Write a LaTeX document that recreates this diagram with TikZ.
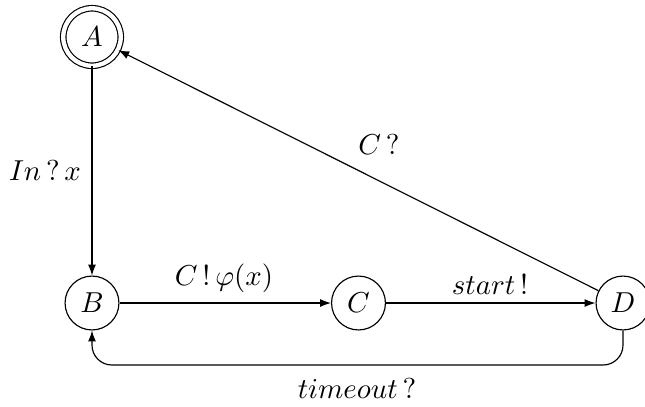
\documentclass[tikz,border=0pt]{standalone}
\usetikzlibrary{arrows.meta}
\begin{document}
\begin{tikzpicture}[x=0.347pt,y=-0.347pt,
  state/.style={circle,draw,line width=0.4pt,minimum size=18.7pt,inner sep=0pt},
  accept/.style={state,double,double distance=1.5pt,minimum size=19.95pt},
  edge/.style={draw,line width=0.4pt,-{Latex[length=3.8pt,width=2.8pt]}},
  lbl/.style={inner sep=0pt}]
\useasboundingbox (0,0) rectangle (645,406);
\node[accept] (A) at (92,37) {$A$};
\node[state] (B) at (92,303) {$B$};
\node[state] (C) at (358.5,303) {$C$};
\node[state] (D) at (623,303) {$D$};
\coordinate (dl) at (623,365);
\coordinate (bl) at (92,365);
\draw[edge] (A) -- (B);
\draw[edge] (B) -- (C);
\draw[edge] (C) -- (D);
\draw[edge] (D) -- (A);
\draw[edge,rounded corners=6.9pt] (D.south) -- (dl) -- (bl) -- (B.south);
\node[lbl] (l1) at (45,170) {$In\,?\,x$};
\node[lbl] (l2) at (224,278) {$C\,!\,\varphi(x)$};
\node[lbl] (l3) at (490,284) {$start\,!$};
\node[lbl] (l4) at (379,144) {$C\,?$};
\node[lbl] (l5) at (357,388) {$timeout\,?$};
\end{tikzpicture}
\end{document}
